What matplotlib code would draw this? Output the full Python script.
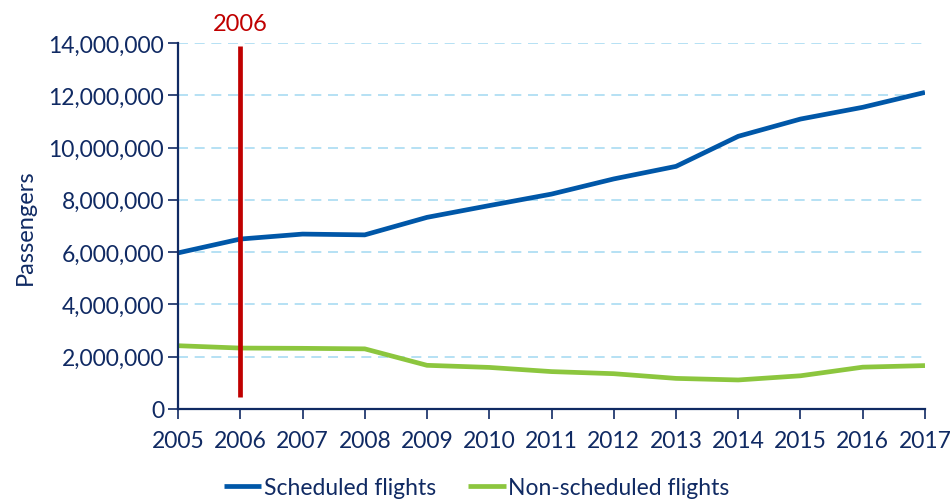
import matplotlib
matplotlib.use("Agg")
import matplotlib.pyplot as plt
from matplotlib.ticker import FuncFormatter

years = [2005, 2006, 2007, 2008, 2009, 2010, 2011, 2012, 2013, 2014, 2015, 2016, 2017]
scheduled = [5970000, 6500000, 6690000, 6660000, 7330000, 7780000, 8220000,
             8800000, 9280000, 10430000, 11090000, 11540000, 12110000]
non_scheduled = [2420000, 2330000, 2320000, 2300000, 1670000, 1590000, 1430000,
                 1350000, 1170000, 1110000, 1270000, 1600000, 1660000]
marker_year = 2006
marker_range = [450000, 13900000]

navy = "#102a63"
plt.rcParams["font.family"] = ["Lato", "DejaVu Sans"]

fig = plt.figure(figsize=(9.53, 5.02), dpi=100)
ax = fig.add_axes([0.1868, 0.1833, 0.7838, 0.7291])

ax.plot(years, scheduled, color="#0057a8", lw=3.4, label="Scheduled flights", solid_capstyle="butt")
ax.plot(years, non_scheduled, color="#8cc63e", lw=3.4, label="Non-scheduled flights", solid_capstyle="butt")
ax.plot([marker_year, marker_year], marker_range, color="#c00000", lw=3.4, solid_capstyle="butt")
ax.text(marker_year, 14350000, str(marker_year), color="#c00000", fontsize=17,
        ha="center", va="bottom")

ax.set_xlim(2005, 2017)
ax.set_ylim(0, 14000000)
ax.set_xticks(years)
ax.set_yticks(range(0, 14000001, 2000000))
ax.yaxis.set_major_formatter(FuncFormatter(lambda v, p: f"{int(v):,}"))

ax.grid(axis="y", color="#a9dcf2", lw=1.2, ls=(0, (6, 4)))
ax.set_axisbelow(True)
for s in ["top", "right"]:
    ax.spines[s].set_visible(False)
for s in ["left", "bottom"]:
    ax.spines[s].set_color(navy)
    ax.spines[s].set_linewidth(1.6)
ax.tick_params(axis="both", colors=navy, labelsize=16.5, length=7, width=1.2, pad=3)
ax.tick_params(axis="x", pad=8)

ax.set_ylabel("Passengers", color=navy, fontsize=17, labelpad=9)

leg = fig.legend(loc="lower center", bbox_to_anchor=(0.5, -0.035), ncol=2, frameon=False,
                 fontsize=16.5, handlelength=1.65, handletextpad=0.1, columnspacing=1.4)
for t in leg.get_texts():
    t.set_color(navy)

fig.savefig("out.png", dpi=100)
